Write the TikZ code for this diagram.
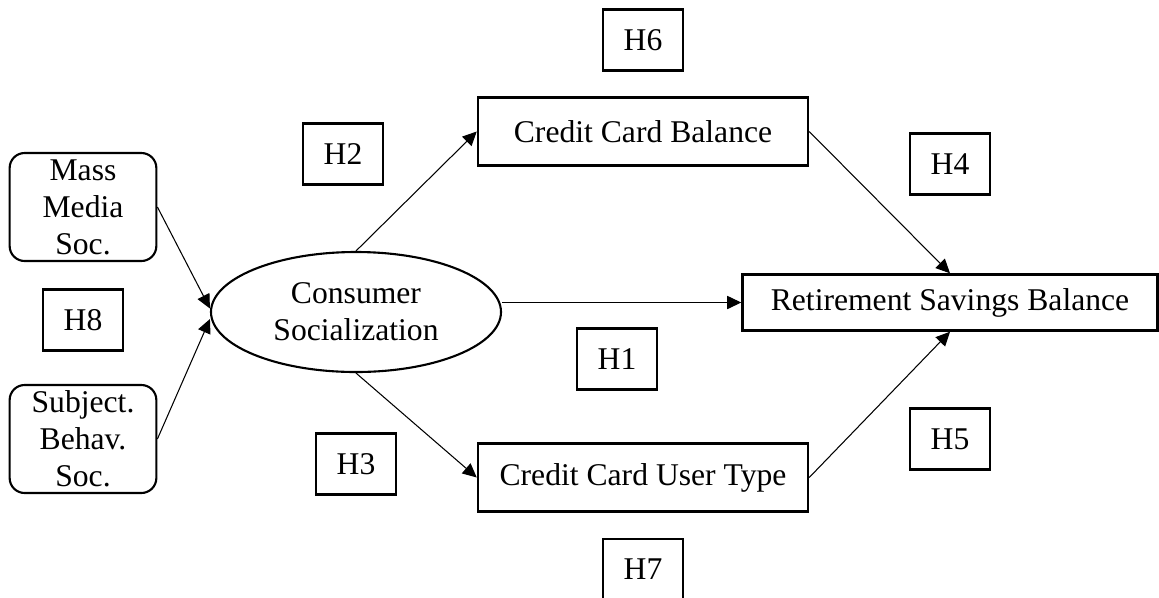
\documentclass[tikz,border=0pt]{standalone}
\usepackage{fontspec}
\setmainfont{Liberation Serif}
\usetikzlibrary{shapes.geometric, arrows.meta}
\usetikzlibrary{positioning}
\tikzstyle{hyp} = [rectangle, minimum width=1.6cm, minimum height=1.22cm, text centered, draw=black, line width=1.4pt, fill=white]
\tikzstyle{construct} = [rectangle, minimum width=6.6cm, minimum height=1.36cm, text centered, draw=black, line width=1.4pt, fill=white]
\tikzstyle{social} = [rectangle, rounded corners=0.3cm, minimum width=2.9cm, minimum height=2.16cm, text centered, text width=2.7cm, align=center, draw=black, line width=1.2pt, fill=white]
\tikzstyle{arrow} = [line width=0.6pt, -{Triangle[length=8pt, width=7.5pt]}]

\begin{document}
\begin{tikzpicture}[font=\fontsize{18pt}{21pt}\selectfont]
 \useasboundingbox (0,0) rectangle (23.18,-11.94);

 \node (cons_soc) [ellipse, draw=black, line width=1.2pt, minimum width=5.8cm, minimum height=2.4cm, align=center] at (7.12,-6.24) {Consumer\\Socialization};

 \node (mass_media) [social] at (1.66,-4.14) {Mass\\Media\\Soc.};
 \node (h8) [hyp, below of=mass_media, node distance=2.26cm] {H8};
 \node (subj_behav) [social, below of=mass_media, node distance=4.64cm] {Subject.\\Behav.\\Soc.};

 \node (h2) [hyp] at (6.86,-3.08) {H2};
 \node (h3) [hyp, below of=cons_soc, node distance=3.04cm] {H3};

 \node (cc_balance) [construct] at (12.86,-2.63) {Credit Card Balance};
 \node (h6) [hyp, above of=cc_balance, node distance=1.83cm] {H6};
 \node (cc_user) [construct, below of=cc_balance, node distance=6.92cm] {Credit Card User Type};
 \node (h7) [hyp, below of=cc_user, node distance=1.84cm] {H7};
 \node (h1) [hyp] at (12.34,-7.18) {H1};

 \node (ret_savings) [construct, minimum width=8.3cm, minimum height=1.12cm] at (19.0,-6.05) {Retirement Savings Balance};
 \node (h4) [hyp, above of=ret_savings, node distance=2.77cm] {H4};
 \node (h5) [hyp, below of=ret_savings, node distance=2.73cm] {H5};

 \draw [arrow] (mass_media.east) -- ([yshift=2pt]cons_soc.west);
 \draw [arrow] (subj_behav.east) -- ([yshift=-4pt]cons_soc.west);

 \draw [arrow] (cons_soc.north) -- (cc_balance.west);
 \draw [arrow] (cons_soc.south) -- (cc_user.west);
 \draw [arrow] (cons_soc.east |- ret_savings.west) -- (ret_savings.west);

 \draw [arrow] (cc_balance.east) -- (ret_savings.north);
 \draw [arrow] (cc_user.east) -- (ret_savings.south);

\end{tikzpicture}
\end{document}
